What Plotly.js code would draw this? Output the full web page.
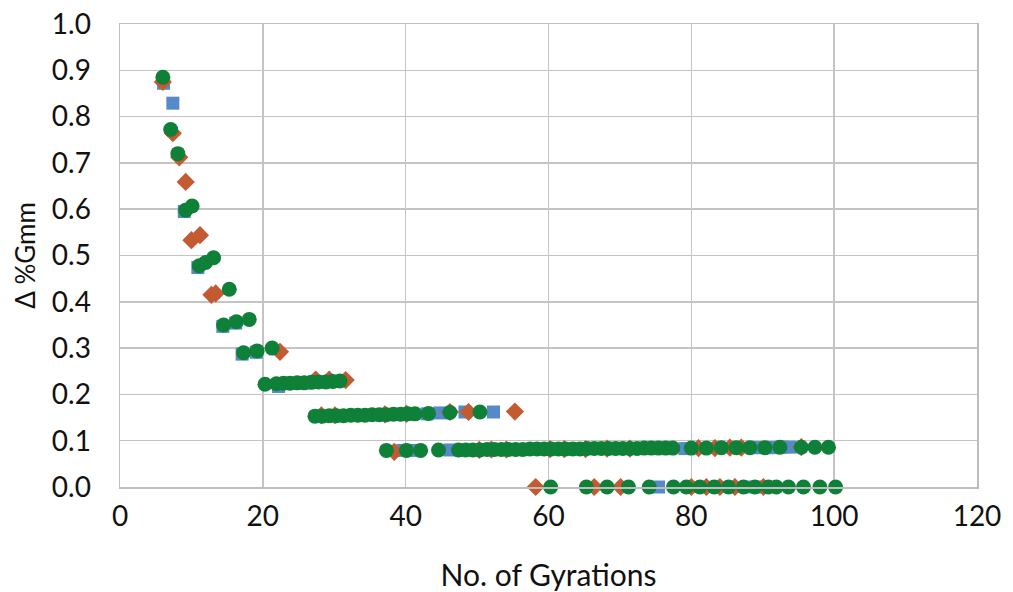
<!DOCTYPE html>
<html>
<head>
<meta charset="utf-8">
<script src="https://cdn.plot.ly/plotly-3.0.1.min.js"></script>
<style>html,body{margin:0;padding:0;background:#fff;}#chart{width:1013px;height:592px;}</style>
</head>
<body>
<div id="chart"></div>
<script>
// Series A (blue squares)
var blueX = [6.1, 7.4, 9.0, 10.9, 14.4, 16.2, 17.1, 19.1,
  22.2,
  43.0, 44.8, 48.3, 52.3,
  39.6, 41.3, 46.2, 79.1, 88.6, 89.6, 90.6, 91.5, 92.6, 93.8,
  75.4, 88.2, 89.6];
var blueY = [0.872, 0.829, 0.595, 0.474, 0.347, 0.354, 0.287, 0.291,
  0.217,
  0.158, 0.160, 0.162, 0.162,
  0.079, 0.079, 0.080, 0.083, 0.085, 0.085, 0.085, 0.085, 0.086, 0.086,
  0.000, 0.000, 0.000];

// Series B (orange diamonds)
var diamondX = [6.0, 7.4, 8.3, 9.2, 10.0, 11.2, 12.8, 13.4,
  22.4,
  27.4, 29.3, 31.6,
  28.2, 30.1, 37.1, 40.1, 46.2, 48.8, 55.3,
  38.4, 50.3, 52.0, 54.1, 60.2, 62.2, 65.2, 68.2, 71.4, 81.0, 83.3, 85.4, 87.0, 95.4,
  58.2, 66.4, 70.1, 80.0, 82.1, 84.0, 86.1, 90.1];
var diamondY = [0.875, 0.764, 0.712, 0.659, 0.533, 0.544, 0.415, 0.418,
  0.292,
  0.232, 0.232, 0.231,
  0.155, 0.155, 0.157, 0.158, 0.162, 0.162, 0.163,
  0.076, 0.080, 0.081, 0.081, 0.082, 0.082, 0.082, 0.083, 0.083, 0.084, 0.084, 0.085, 0.085, 0.086,
  0.000, 0.000, 0.000, 0.000, 0.000, 0.000, 0.000, 0.000];

// Series C (green circles)
var greenX = [6.0, 7.1, 8.1, 9.2, 10.1, 11.1, 12.0, 13.1, 14.5, 15.3, 16.3, 17.3, 18.1, 19.2, 20.3, 21.3,
  21.9, 22.9, 23.8, 24.8, 25.8, 26.8, 27.8, 28.8, 29.8, 30.8,
  27.3, 28.3, 29.3, 30.3, 31.3, 32.3, 33.3, 34.3, 35.3, 36.3, 37.3, 38.3, 39.3, 40.3, 41.3, 43.2, 46.2, 50.4,
  37.3, 40.1, 42.1, 44.6, 47.4, 48.4, 49.4, 50.4, 51.4, 52.4, 53.4, 54.4, 55.4, 56.4, 57.4, 58.4, 59.4, 60.4,
  61.4, 62.4, 63.4, 64.4, 65.4, 66.4, 67.4, 68.4, 69.4, 70.4, 71.4, 72.4, 73.4, 74.4, 75.4, 76.4, 77.4,
  80.0, 82.1, 84.2, 86.3, 88.2, 90.3, 92.4, 95.4, 97.3, 99.2,
  60.3, 65.3, 68.2, 71.2, 74.1, 77.5, 79.3, 81.2, 83.2, 85.2, 87.3, 88.9, 90.8, 91.9, 93.6, 95.7, 98.0, 100.2];
var greenY = [0.885, 0.772, 0.720, 0.598, 0.607, 0.478, 0.485, 0.495, 0.350, 0.427, 0.357, 0.290, 0.362, 0.294, 0.222, 0.300,
  0.223, 0.224, 0.224, 0.225, 0.225, 0.226, 0.227, 0.227, 0.228, 0.229,
  0.153, 0.153, 0.154, 0.154, 0.154, 0.155, 0.155, 0.155, 0.156, 0.156, 0.156, 0.157, 0.157, 0.158, 0.158, 0.159, 0.161, 0.162,
  0.079, 0.079, 0.079, 0.080, 0.080, 0.080, 0.080, 0.080, 0.081, 0.081, 0.081, 0.081, 0.081, 0.081, 0.082, 0.082, 0.082, 0.082,
  0.082, 0.082, 0.082, 0.082, 0.083, 0.083, 0.083, 0.083, 0.083, 0.083, 0.083, 0.083, 0.084, 0.084, 0.084, 0.084, 0.084,
  0.084, 0.084, 0.085, 0.085, 0.085, 0.085, 0.086, 0.086, 0.086, 0.086,
  0.000, 0.000, 0.000, 0.000, 0.000, 0.000, 0.000, 0.000, 0.000, 0.000, 0.000, 0.000, 0.000, 0.000, 0.000, 0.000, 0.000, 0.000];

var xTicks = [0, 20, 40, 60, 80, 100, 120];
var yTicks = [0.0, 0.1, 0.2, 0.3, 0.4, 0.5, 0.6, 0.7, 0.8, 0.9, 1.0];

var traces = [
  {x: blueX, y: blueY, type: 'scatter', mode: 'markers', name: 'A',
   marker: {symbol: 'square', size: 13, color: '#5589C8'}, cliponaxis: false},
  {x: diamondX, y: diamondY, type: 'scatter', mode: 'markers', name: 'B',
   marker: {symbol: 'diamond', size: 14, color: '#C45A32'}, cliponaxis: false},
  {x: greenX, y: greenY, type: 'scatter', mode: 'markers', name: 'C',
   marker: {symbol: 'circle', size: 15, color: '#0E8038'}, cliponaxis: false}
];

var fontFam = 'Lato, "Open Sans", sans-serif';
var layout = {
  width: 1013, height: 592,
  margin: {l: 120, r: 36, t: 24, b: 105},
  paper_bgcolor: '#ffffff', plot_bgcolor: '#ffffff',
  showlegend: false,
  font: {family: fontFam, color: '#000000'},
  xaxis: {
    range: [0, 120], tickvals: xTicks, ticktext: xTicks.map(String),
    showgrid: true, gridcolor: '#c4c4c4', gridwidth: 1.5,
    showline: true, linecolor: '#bdbdbd', linewidth: 1.5, mirror: true,
    zeroline: false,
    ticks: 'outside', ticklen: 4, tickcolor: 'rgba(0,0,0,0)',
    tickfont: {family: fontFam, size: 28, color: '#111111'},
    title: {text: 'No. of Gyrations', font: {family: fontFam, size: 30, color: '#111111'}, standoff: 34}
  },
  yaxis: {
    range: [0, 1.0], tickvals: yTicks, ticktext: yTicks.map(function(v){return v.toFixed(1);}),
    showgrid: true, gridcolor: '#c4c4c4', gridwidth: 1.5,
    showline: true, linecolor: '#bdbdbd', linewidth: 1.5, mirror: true,
    zeroline: false,
    ticks: 'outside', ticklen: 22, tickcolor: 'rgba(0,0,0,0)',
    tickfont: {family: fontFam, size: 28, color: '#111111'},
    title: {text: 'Δ %Gmm', font: {family: fontFam, size: 26, color: '#111111'}, standoff: 8}
  }
};

Plotly.newPlot('chart', traces, layout, {staticPlot: true, displayModeBar: false});
</script>
</body>
</html>
